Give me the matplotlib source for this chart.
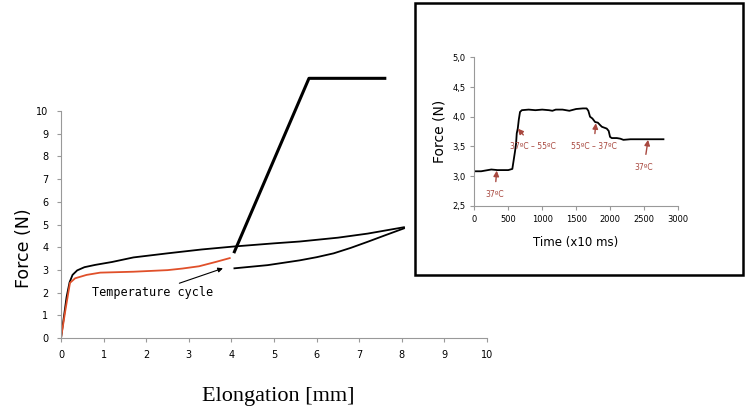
import matplotlib.pyplot as plt
from matplotlib.patches import Rectangle

# main tensile curve (black), loading then unloading
load_x = [0, 0.13, 0.2, 0.27, 0.38, 0.55, 0.8, 1.2, 1.7, 2.5, 3.3, 4.05, 5.0, 5.6, 6.5, 7.2, 8.05]
load_y = [0, 1.8, 2.45, 2.78, 2.98, 3.12, 3.22, 3.35, 3.55, 3.73, 3.9, 4.03, 4.17, 4.25, 4.42, 4.6, 4.88]
unload_x = [8.05, 7.6, 7.2, 6.8, 6.4, 6.0, 5.6, 4.85, 4.07]
unload_y = [4.83, 4.52, 4.24, 3.97, 3.73, 3.56, 3.42, 3.21, 3.07]

# red curve with temperature cycle
red_x = [0, 0.1, 0.21, 0.33, 0.6, 0.92, 1.7, 2.5, 2.85, 3.24, 3.63, 3.96]
red_y = [0, 1.2, 2.43, 2.63, 2.78, 2.88, 2.92, 2.99, 3.06, 3.16, 3.35, 3.52]

# steep line going off the chart
steep_x = [4.07, 5.82, 7.6]
steep_y = [3.8, 11.44, 11.44]

# inset: force over time
t = [0, 100, 200, 250, 340, 400, 500, 560, 580, 600, 615, 625, 640, 655, 673, 700,
     800, 900, 1000, 1100, 1150, 1200, 1300, 1400, 1500, 1600, 1655, 1680, 1705,
     1740, 1780, 1820, 1853, 1880, 1951, 1980, 2000, 2025, 2100, 2150, 2197, 2300,
     2500, 2787]
f = [3.08, 3.08, 3.10, 3.11, 3.10, 3.10, 3.10, 3.12, 3.27, 3.42, 3.55, 3.72, 3.80,
     3.95, 4.08, 4.11, 4.12, 4.11, 4.12, 4.11, 4.10, 4.12, 4.12, 4.10, 4.13, 4.14,
     4.14, 4.10, 4.00, 3.97, 3.91, 3.90, 3.86, 3.83, 3.80, 3.76, 3.66, 3.64, 3.64,
     3.63, 3.61, 3.62, 3.62, 3.62]

notes = ["37ºC", "37ºC – 55ºC", "55ºC – 37ºC", "37ºC"]
note_xy = [(330, 3.09), (640, 3.8), (1790, 3.89), (2560, 3.61)]
note_text_xy = [(300, 2.69), (870, 3.5), (1760, 3.5), (2500, 3.15)]

fig = plt.figure(figsize=(7.47, 4.13), dpi=100)

ax = fig.add_axes([0.0817, 0.1816, 0.5703, 0.5496])
ax.plot(load_x, load_y, color="black", lw=1.3)
ax.plot(unload_x, unload_y, color="black", lw=1.3)
ax.plot(red_x, red_y, color="#e0502a", lw=1.3)
ax.plot(steep_x, steep_y, color="black", lw=2.2, clip_on=False)
ax.set_xlim(0, 10)
ax.set_ylim(0, 10)
ax.set_xticks(range(11))
ax.set_yticks(range(11))
ax.tick_params(labelsize=7, length=3, color="#999999", pad=6)
for s in ["top", "right"]:
    ax.spines[s].set_visible(False)
for s in ["left", "bottom"]:
    ax.spines[s].set_color("#999999")
ax.annotate("Temperature cycle", xy=(3.8, 3.07), xytext=(0.72, 1.85),
            fontsize=8.5, family="DejaVu Sans Mono",
            arrowprops=dict(arrowstyle="-|>", color="black", lw=0.8,
                            shrinkA=0, shrinkB=0, mutation_scale=7))

fig.text(0.032, 0.40, "Force (N)", rotation=90, fontsize=12.5,
         ha="center", va="center")
fig.text(0.372, 0.041, "Elongation [mm]", fontsize=16,
         family="Liberation Serif", ha="center", va="center")

# inset box
fig.patches.append(Rectangle((0.556, 0.334), 0.439, 0.658, transform=fig.transFigure,
                             facecolor="white", edgecolor="black", lw=1.8, zorder=2))

ax2 = fig.add_axes([0.635, 0.502, 0.2725, 0.359], zorder=3)
ax2.patch.set_alpha(0)
ax2.plot(t, f, color="black", lw=1.3)
ax2.set_xlim(0, 3000)
ax2.set_ylim(2.5, 5.0)
ax2.set_xticks([0, 500, 1000, 1500, 2000, 2500, 3000])
ax2.set_yticks([2.5, 3.0, 3.5, 4.0, 4.5, 5.0])
ax2.set_yticklabels(["2,5", "3,0", "3,5", "4,0", "4,5", "5,0"])
ax2.tick_params(labelsize=6, length=3, color="#999999")
for s in ["top", "right"]:
    ax2.spines[s].set_visible(False)
for s in ["left", "bottom"]:
    ax2.spines[s].set_color("#999999")
ax2.set_ylabel("Force (N)", fontsize=10, labelpad=4)
ax2.set_xlabel("Time (x10 ms)", fontsize=8.5, labelpad=9)
for txt, xy, xyt in zip(notes, note_xy, note_text_xy):
    ax2.annotate(txt, xy=xy, xytext=xyt, fontsize=5.5, color="#a8483f",
                 ha="center", va="center",
                 arrowprops=dict(arrowstyle="-|>", color="#a8483f", lw=1.0,
                                 shrinkA=4, shrinkB=0, mutation_scale=8))

fig.savefig("out.png", dpi=100)
